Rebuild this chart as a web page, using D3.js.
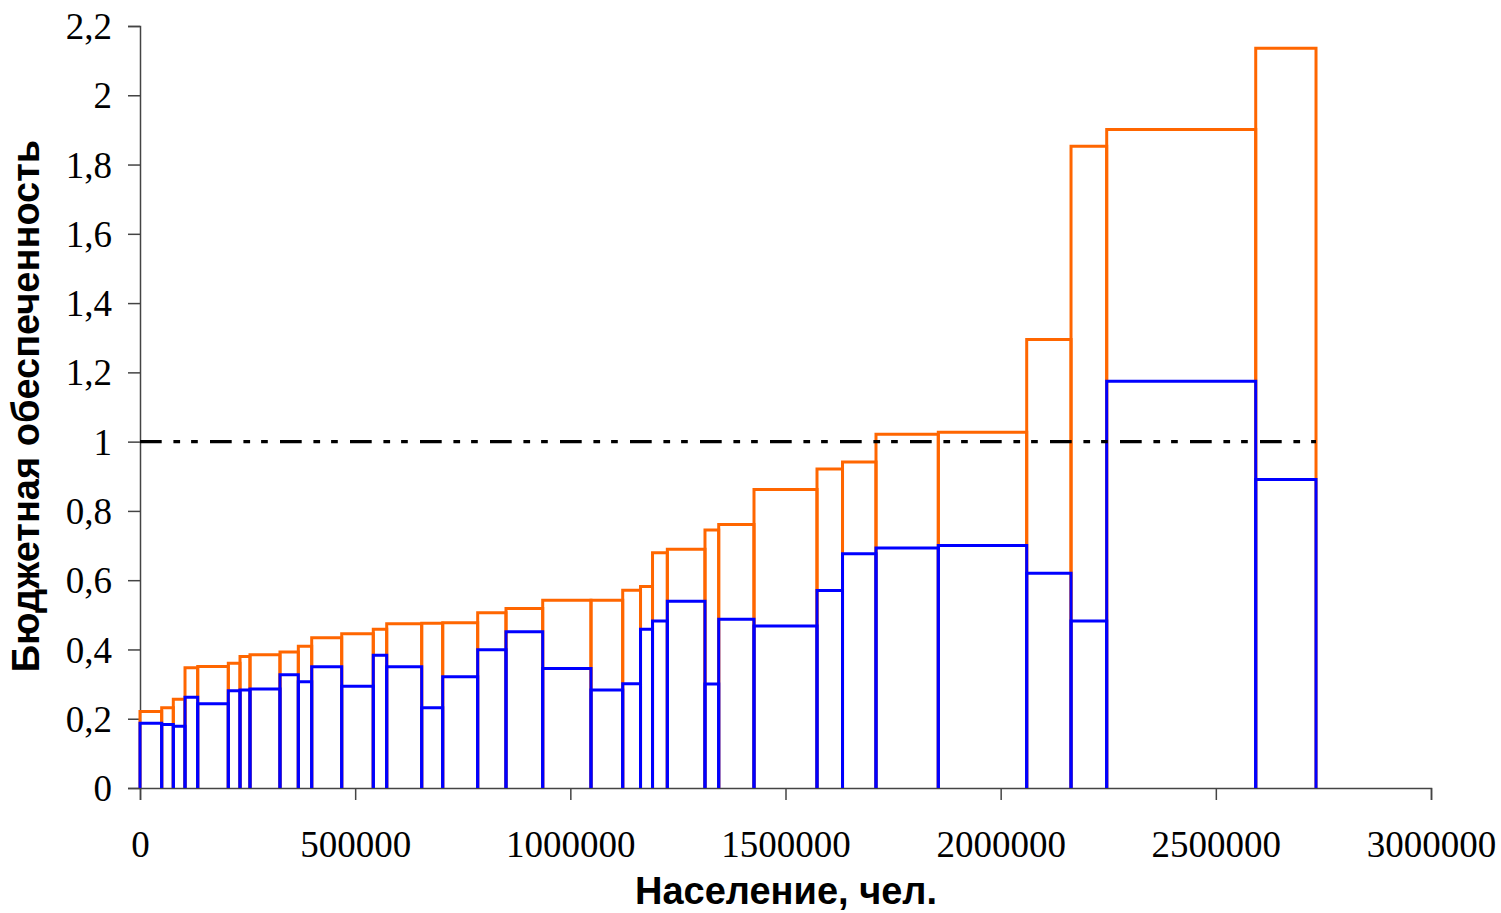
<!DOCTYPE html>
<html>
<head>
<meta charset="utf-8">
<script src="https://cdn.jsdelivr.net/npm/d3@7"></script>
<style>
	body { margin: 0; background: #fff; }
	.tick-label { font-family: "Liberation Serif", "Times New Roman", serif; font-size: 37px; fill: #000; }
	.axis-title { font-family: "Liberation Sans", Arial, sans-serif; font-weight: bold; font-size: 38px; fill: #000; }
</style>
</head>
<body>
<div id="chart-area"></div>
<script>
// Population of each region, in order of increasing budget provision
const population = [50400, 27000, 27200, 29500, 71100, 27200, 23200, 69700, 42600, 31100,
	69700, 73400, 31200, 81300, 48800, 81300, 65800, 85300, 112200, 73700,
	41400, 27900, 34400, 87500, 31900, 82000, 146400, 59300, 77800, 144800,
	205400, 103000, 82900, 346300, 140100];

// Budget provision after equalisation (orange)
const budgetAfter = [0.221, 0.232, 0.256, 0.347, 0.351, 0.360, 0.380, 0.385, 0.393, 0.409,
	0.434, 0.445, 0.458, 0.474, 0.476, 0.477, 0.506, 0.518, 0.542, 0.542,
	0.571, 0.582, 0.679, 0.689, 0.745, 0.761, 0.862, 0.921, 0.941, 1.021,
	1.027, 1.295, 1.853, 1.901, 2.136];

// Budget provision before equalisation (blue)
const budgetBefore = [0.187, 0.183, 0.178, 0.262, 0.243, 0.281, 0.283, 0.286, 0.327, 0.307,
	0.350, 0.294, 0.383, 0.350, 0.232, 0.321, 0.399, 0.451, 0.345, 0.283,
	0.301, 0.458, 0.482, 0.539, 0.300, 0.487, 0.468, 0.570, 0.676, 0.693,
	0.700, 0.620, 0.482, 1.174, 0.891];

const yTicks = [0, 0.2, 0.4, 0.6, 0.8, 1, 1.2, 1.4, 1.6, 1.8, 2, 2.2];
const xTicks = [0, 500000, 1000000, 1500000, 2000000, 2500000, 3000000];
const referenceLevel = 1;

let margin = {top: 26, right: 70, bottom: 125, left: 140};
let width = 1501 - margin.left - margin.right,
	height = 913 - margin.top - margin.bottom;

let svg = d3.select("#chart-area")
	.append("svg")
	.attr("width", 1501)
	.attr("height", 913);

let g = svg.append("g")
	.attr("transform", "translate(" + margin.left + "," + margin.top + ")");

let x = d3.scaleLinear().domain([0, 3000000]).range([0, width]);
let y = d3.scaleLinear().domain([0, 2.2]).range([height, 0]);

// cumulative start / end of every region along the x axis
let cum = 0;
let regions = population.map((p, i) => {
	let r = {x0: cum, x1: cum + p, after: budgetAfter[i], before: budgetBefore[i]};
	cum += p;
	return r;
});

// open-bottom rectangle outline
function stepPath(d, v) {
	return "M" + x(d.x0) + "," + y(0) + "V" + y(v) + "H" + x(d.x1) + "V" + y(0);
}

// Axes
let comma = v => String(v).replace(".", ",");

let yAxis = d3.axisLeft(y).tickValues(yTicks).tickSize(12).tickPadding(16).tickFormat(comma);
let yAxisGroup = g.append("g").attr("class", "axis y-axis").call(yAxis);

let xAxis = d3.axisBottom(x).tickValues(xTicks).tickSize(12).tickPadding(0).tickFormat(d => d);
let xAxisGroup = g.append("g")
	.attr("class", "axis x-axis")
	.attr("transform", "translate(0," + height + ")")
	.call(xAxis);

g.selectAll(".axis path, .axis line").attr("stroke", "#444").attr("stroke-width", 1.5);
g.selectAll(".axis text").attr("class", "tick-label").attr("font-size", null).attr("font-family", null);
yAxisGroup.selectAll("text").attr("dy", "0.34em");
xAxisGroup.selectAll("text").attr("y", 69).attr("dy", null);

// Orange outlines first, blue on top
g.selectAll(".after")
	.data(regions)
	.enter()
	.append("path")
	.attr("class", "after")
	.attr("d", d => stepPath(d, d.after))
	.attr("fill", "none")
	.attr("stroke", "#FF6600")
	.attr("stroke-width", 3);

g.selectAll(".before")
	.data(regions)
	.enter()
	.append("path")
	.attr("class", "before")
	.attr("d", d => stepPath(d, d.before))
	.attr("fill", "none")
	.attr("stroke", "#0000FF")
	.attr("stroke-width", 3);

// dash-dot-dot reference line at 1
g.append("line")
	.attr("x1", x(0))
	.attr("x2", x(cum))
	.attr("y1", y(referenceLevel))
	.attr("y2", y(referenceLevel))
	.attr("stroke", "#000")
	.attr("stroke-width", 3.4)
	.attr("stroke-dasharray", "21.7 11.7 6.7 11 6.7 12.2");

// Axis titles
svg.append("text")
	.attr("class", "axis-title")
	.attr("x", 786)
	.attr("y", 904)
	.attr("text-anchor", "middle")
	.text("Население, чел.");

svg.append("text")
	.attr("class", "axis-title")
	.attr("transform", "translate(39,406) rotate(-90)")
	.attr("text-anchor", "middle")
	.text("Бюджетная обеспеченность");
</script>
</body>
</html>
